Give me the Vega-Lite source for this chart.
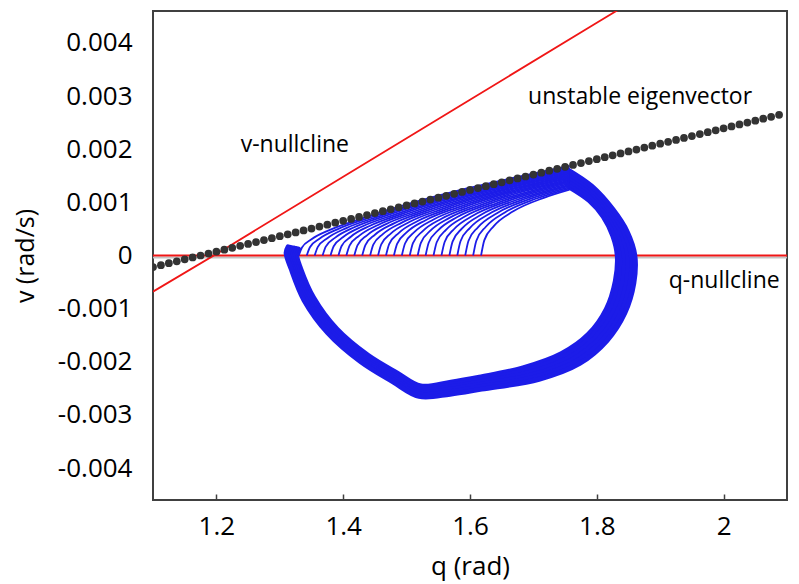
{
  "$schema": "https://vega.github.io/schema/vega-lite/v6.json",
  "width": 634,
  "height": 489,
  "autosize": {"type": "none"},
  "padding": {"left": 153, "top": 11, "right": 12, "bottom": 84},
  "background": "white",
  "config": {"view": {"stroke": "#404040", "strokeWidth": 2}},
  "datasets": {
    "qnull": [{"q": 1.1, "v": 0}, {"q": 2.1, "v": 0}],
    "vnull": [
      {"q": 1.1, "v": -0.00068}, {"q": 1.2, "v": 0.00003}, {"q": 1.4, "v": 0.00148},
      {"q": 1.6, "v": 0.00293}, {"q": 1.8, "v": 0.00438}, {"q": 1.86, "v": 0.00481}
    ],
    "loop": [
      {"t":0,"k":0,"q":1.7573,"v":0.001284},{"t":0,"k":1,"q":1.7883,"v":0.001032},{"t":0,"k":2,"q":1.8102,"v":0.000733},{"t":0,"k":3,"q":1.8253,"v":0.000367},{"t":0,"k":4,"q":1.8323,"v":0},{"t":0,"k":5,"q":1.8293,"v":-0.000477},{"t":0,"k":6,"q":1.8151,"v":-0.001007},{"t":0,"k":7,"q":1.7867,"v":-0.001484},{"t":0,"k":8,"q":1.7440,"v":-0.001850},{"t":0,"k":9,"q":1.6836,"v":-0.002116},{"t":0,"k":10,"q":1.6146,"v":-0.002288},{"t":0,"k":10.5,"q":1.5698,"v":-0.002382},{"t":0,"k":11,"q":1.5223,"v":-0.002454},{"t":0,"k":12,"q":1.4867,"v":-0.002222},{"t":0,"k":13,"q":1.4391,"v":-0.001879},{"t":0,"k":14,"q":1.3899,"v":-0.001384},{"t":0,"k":15,"q":1.3534,"v":-0.000797},{"t":0,"k":16,"q":1.3328,"v":-0.000245},{"t":0,"k":17,"q":1.3264,"v":0.000023},{"t":0,"k":18,"q":1.3296,"v":0.000119},
      {"t":1,"k":0,"q":1.7566,"v":0.001351},{"t":1,"k":1,"q":1.7890,"v":0.001086},{"t":1,"k":2,"q":1.8132,"v":0.000760},{"t":1,"k":3,"q":1.8299,"v":0.000382},{"t":1,"k":4,"q":1.8378,"v":0},{"t":1,"k":5,"q":1.8351,"v":-0.000486},{"t":1,"k":6,"q":1.8209,"v":-0.001022},{"t":1,"k":7,"q":1.7925,"v":-0.001508},{"t":1,"k":8,"q":1.7498,"v":-0.001886},{"t":1,"k":9,"q":1.6886,"v":-0.002159},{"t":1,"k":10,"q":1.6153,"v":-0.002333},{"t":1,"k":10.5,"q":1.5695,"v":-0.002428},{"t":1,"k":11,"q":1.5218,"v":-0.002493},{"t":1,"k":12,"q":1.4849,"v":-0.002252},{"t":1,"k":13,"q":1.4368,"v":-0.001903},{"t":1,"k":14,"q":1.3871,"v":-0.001399},{"t":1,"k":15,"q":1.3504,"v":-0.000806},{"t":1,"k":16,"q":1.3298,"v":-0.000245},{"t":1,"k":17,"q":1.3231,"v":0.000029},{"t":1,"k":18,"q":1.3263,"v":0.000128},
      {"t":2,"k":0,"q":1.7558,"v":0.001417},{"t":2,"k":1,"q":1.7898,"v":0.001140},{"t":2,"k":2,"q":1.8162,"v":0.000787},{"t":2,"k":3,"q":1.8344,"v":0.000397},{"t":2,"k":4,"q":1.8434,"v":0},{"t":2,"k":5,"q":1.8409,"v":-0.000495},{"t":2,"k":6,"q":1.8267,"v":-0.001037},{"t":2,"k":7,"q":1.7983,"v":-0.001532},{"t":2,"k":8,"q":1.7556,"v":-0.001922},{"t":2,"k":9,"q":1.6937,"v":-0.002201},{"t":2,"k":10,"q":1.6161,"v":-0.002378},{"t":2,"k":10.5,"q":1.5693,"v":-0.002473},{"t":2,"k":11,"q":1.5213,"v":-0.002532},{"t":2,"k":12,"q":1.4832,"v":-0.002282},{"t":2,"k":13,"q":1.4345,"v":-0.001927},{"t":2,"k":14,"q":1.3843,"v":-0.001414},{"t":2,"k":15,"q":1.3473,"v":-0.000815},{"t":2,"k":16,"q":1.3268,"v":-0.000245},{"t":2,"k":17,"q":1.3198,"v":0.000035},{"t":2,"k":18,"q":1.3230,"v":0.000137},
      {"t":3,"k":0,"q":1.7550,"v":0.001483},{"t":3,"k":1,"q":1.7905,"v":0.001195},{"t":3,"k":2,"q":1.8193,"v":0.000814},{"t":3,"k":3,"q":1.8390,"v":0.000413},{"t":3,"k":4,"q":1.8489,"v":0},{"t":3,"k":5,"q":1.8468,"v":-0.000503},{"t":3,"k":6,"q":1.8326,"v":-0.001053},{"t":3,"k":7,"q":1.8042,"v":-0.001557},{"t":3,"k":8,"q":1.7615,"v":-0.001958},{"t":3,"k":9,"q":1.6987,"v":-0.002243},{"t":3,"k":10,"q":1.6168,"v":-0.002424},{"t":3,"k":10.5,"q":1.5690,"v":-0.002518},{"t":3,"k":11,"q":1.5207,"v":-0.002571},{"t":3,"k":12,"q":1.4814,"v":-0.002313},{"t":3,"k":13,"q":1.4323,"v":-0.001952},{"t":3,"k":14,"q":1.3815,"v":-0.001430},{"t":3,"k":15,"q":1.3443,"v":-0.000823},{"t":3,"k":16,"q":1.3237,"v":-0.000245},{"t":3,"k":17,"q":1.3165,"v":0.000040},{"t":3,"k":18,"q":1.3197,"v":0.000145},
      {"t":4,"k":0,"q":1.7542,"v":0.001549},{"t":4,"k":1,"q":1.7913,"v":0.001249},{"t":4,"k":2,"q":1.8223,"v":0.000841},{"t":4,"k":3,"q":1.8435,"v":0.000428},{"t":4,"k":4,"q":1.8545,"v":0},{"t":4,"k":5,"q":1.8526,"v":-0.000512},{"t":4,"k":6,"q":1.8384,"v":-0.001068},{"t":4,"k":7,"q":1.8100,"v":-0.001581},{"t":4,"k":8,"q":1.7673,"v":-0.001994},{"t":4,"k":9,"q":1.7038,"v":-0.002285},{"t":4,"k":10,"q":1.6176,"v":-0.002469},{"t":4,"k":10.5,"q":1.5688,"v":-0.002563},{"t":4,"k":11,"q":1.5202,"v":-0.002610},{"t":4,"k":12,"q":1.4797,"v":-0.002343},{"t":4,"k":13,"q":1.4300,"v":-0.001976},{"t":4,"k":14,"q":1.3787,"v":-0.001445},{"t":4,"k":15,"q":1.3412,"v":-0.000832},{"t":4,"k":16,"q":1.3207,"v":-0.000245},{"t":4,"k":17,"q":1.3132,"v":0.000046},{"t":4,"k":18,"q":1.3164,"v":0.000154},
      {"t":5,"k":0,"q":1.7535,"v":0.001616},{"t":5,"k":1,"q":1.7920,"v":0.001303},{"t":5,"k":2,"q":1.8253,"v":0.000868},{"t":5,"k":3,"q":1.8481,"v":0.000443},{"t":5,"k":4,"q":1.8600,"v":0},{"t":5,"k":5,"q":1.8584,"v":-0.000521},{"t":5,"k":6,"q":1.8442,"v":-0.001083},{"t":5,"k":7,"q":1.8158,"v":-0.001605},{"t":5,"k":8,"q":1.7731,"v":-0.002030},{"t":5,"k":9,"q":1.7088,"v":-0.002328},{"t":5,"k":10,"q":1.6183,"v":-0.002514},{"t":5,"k":10.5,"q":1.5686,"v":-0.002609},{"t":5,"k":11,"q":1.5197,"v":-0.002650},{"t":5,"k":12,"q":1.4779,"v":-0.002373},{"t":5,"k":13,"q":1.4277,"v":-0.002000},{"t":5,"k":14,"q":1.3759,"v":-0.001460},{"t":5,"k":15,"q":1.3382,"v":-0.000841},{"t":5,"k":16,"q":1.3177,"v":-0.000245},{"t":5,"k":17,"q":1.3100,"v":0.000052},{"t":5,"k":18,"q":1.3132,"v":0.000163}
    ],
    "arcs": [
      {"a":0,"q":1.33,"v":0},{"a":0,"q":1.335,"v":0.000150},{"a":0,"q":1.35,"v":0.000304},{"a":0,"q":1.38,"v":0.000487},{"a":0,"q":1.43,"v":0.000698},{"a":0,"q":1.757,"v":0.001688},
      {"a":1,"q":1.3425,"v":0},{"a":1,"q":1.3475,"v":0.000156},{"a":1,"q":1.3625,"v":0.000315},{"a":1,"q":1.3925,"v":0.000502},{"a":1,"q":1.4425,"v":0.000715},{"a":1,"q":1.757,"v":0.001670},
      {"a":2,"q":1.355,"v":0},{"a":2,"q":1.36,"v":0.000162},{"a":2,"q":1.375,"v":0.000326},{"a":2,"q":1.405,"v":0.000516},{"a":2,"q":1.455,"v":0.000732},{"a":2,"q":1.757,"v":0.001651},
      {"a":3,"q":1.3675,"v":0},{"a":3,"q":1.3725,"v":0.000168},{"a":3,"q":1.3875,"v":0.000336},{"a":3,"q":1.4175,"v":0.000531},{"a":3,"q":1.4675,"v":0.000749},{"a":3,"q":1.757,"v":0.001633},
      {"a":4,"q":1.38,"v":0},{"a":4,"q":1.385,"v":0.000174},{"a":4,"q":1.4,"v":0.000347},{"a":4,"q":1.43,"v":0.000546},{"a":4,"q":1.48,"v":0.000766},{"a":4,"q":1.757,"v":0.001615},
      {"a":5,"q":1.3925,"v":0},{"a":5,"q":1.3975,"v":0.000179},{"a":5,"q":1.4125,"v":0.000358},{"a":5,"q":1.4425,"v":0.000561},{"a":5,"q":1.4925,"v":0.000783},{"a":5,"q":1.757,"v":0.001597},
      {"a":6,"q":1.405,"v":0},{"a":6,"q":1.41,"v":0.000185},{"a":6,"q":1.425,"v":0.000369},{"a":6,"q":1.455,"v":0.000575},{"a":6,"q":1.505,"v":0.000800},{"a":6,"q":1.757,"v":0.001578},
      {"a":7,"q":1.4175,"v":0},{"a":7,"q":1.4225,"v":0.000191},{"a":7,"q":1.4375,"v":0.000379},{"a":7,"q":1.4675,"v":0.000590},{"a":7,"q":1.5175,"v":0.000817},{"a":7,"q":1.757,"v":0.001560},
      {"a":8,"q":1.43,"v":0},{"a":8,"q":1.435,"v":0.000197},{"a":8,"q":1.45,"v":0.000390},{"a":8,"q":1.48,"v":0.000605},{"a":8,"q":1.53,"v":0.000834},{"a":8,"q":1.757,"v":0.001542},
      {"a":9,"q":1.4425,"v":0},{"a":9,"q":1.4475,"v":0.000203},{"a":9,"q":1.4625,"v":0.000401},{"a":9,"q":1.4925,"v":0.000619},{"a":9,"q":1.5425,"v":0.000851},{"a":9,"q":1.757,"v":0.001524},
      {"a":10,"q":1.455,"v":0},{"a":10,"q":1.46,"v":0.000209},{"a":10,"q":1.475,"v":0.000412},{"a":10,"q":1.505,"v":0.000634},{"a":10,"q":1.555,"v":0.000868},{"a":10,"q":1.757,"v":0.001505},
      {"a":11,"q":1.4675,"v":0},{"a":11,"q":1.4725,"v":0.000214},{"a":11,"q":1.4875,"v":0.000423},{"a":11,"q":1.5175,"v":0.000649},{"a":11,"q":1.5675,"v":0.000885},{"a":11,"q":1.757,"v":0.001487},
      {"a":12,"q":1.48,"v":0},{"a":12,"q":1.485,"v":0.000220},{"a":12,"q":1.5,"v":0.000433},{"a":12,"q":1.53,"v":0.000664},{"a":12,"q":1.58,"v":0.000902},{"a":12,"q":1.757,"v":0.001469},
      {"a":13,"q":1.4925,"v":0},{"a":13,"q":1.4975,"v":0.000226},{"a":13,"q":1.5125,"v":0.000444},{"a":13,"q":1.5425,"v":0.000678},{"a":13,"q":1.5925,"v":0.000919},{"a":13,"q":1.757,"v":0.001450},
      {"a":14,"q":1.505,"v":0},{"a":14,"q":1.51,"v":0.000232},{"a":14,"q":1.525,"v":0.000455},{"a":14,"q":1.555,"v":0.000693},{"a":14,"q":1.605,"v":0.000936},{"a":14,"q":1.757,"v":0.001432},
      {"a":15,"q":1.5175,"v":0},{"a":15,"q":1.5225,"v":0.000238},{"a":15,"q":1.5375,"v":0.000466},{"a":15,"q":1.5675,"v":0.000708},{"a":15,"q":1.6175,"v":0.000953},{"a":15,"q":1.757,"v":0.001414},
      {"a":16,"q":1.53,"v":0},{"a":16,"q":1.535,"v":0.000244},{"a":16,"q":1.55,"v":0.000476},{"a":16,"q":1.58,"v":0.000723},{"a":16,"q":1.63,"v":0.000970},{"a":16,"q":1.757,"v":0.001396},
      {"a":17,"q":1.5425,"v":0},{"a":17,"q":1.5475,"v":0.000249},{"a":17,"q":1.5625,"v":0.000487},{"a":17,"q":1.5925,"v":0.000737},{"a":17,"q":1.6425,"v":0.000987},{"a":17,"q":1.757,"v":0.001377},
      {"a":18,"q":1.555,"v":0},{"a":18,"q":1.56,"v":0.000255},{"a":18,"q":1.575,"v":0.000498},{"a":18,"q":1.605,"v":0.000752},{"a":18,"q":1.655,"v":0.001004},{"a":18,"q":1.757,"v":0.001352},
      {"a":19,"q":1.5675,"v":0},{"a":19,"q":1.5725,"v":0.000261},{"a":19,"q":1.5875,"v":0.000509},{"a":19,"q":1.6175,"v":0.000767},{"a":19,"q":1.6675,"v":0.001021},{"a":19,"q":1.757,"v":0.001331},
      {"a":20,"q":1.58,"v":0},{"a":20,"q":1.585,"v":0.000267},{"a":20,"q":1.6,"v":0.000520},{"a":20,"q":1.63,"v":0.000781},{"a":20,"q":1.68,"v":0.001038},{"a":20,"q":1.757,"v":0.001310},
      {"a":21,"q":1.5925,"v":0},{"a":21,"q":1.5975,"v":0.000273},{"a":21,"q":1.6125,"v":0.000530},{"a":21,"q":1.6425,"v":0.000796},{"a":21,"q":1.6925,"v":0.001055},{"a":21,"q":1.757,"v":0.001287},
      {"a":22,"q":1.605,"v":0},{"a":22,"q":1.61,"v":0.000279},{"a":22,"q":1.625,"v":0.000541},{"a":22,"q":1.655,"v":0.000811},{"a":22,"q":1.705,"v":0.001072},{"a":22,"q":1.757,"v":0.001264},
      {"a":23,"q":1.6175,"v":0},{"a":23,"q":1.6225,"v":0.000284},{"a":23,"q":1.6375,"v":0.000552},{"a":23,"q":1.6675,"v":0.000826},{"a":23,"q":1.7175,"v":0.001089},{"a":23,"q":1.757,"v":0.001239}
    ],
    "eig": [
      {"q":1.1,"v":-0.0002175},{"q":1.1125,"v":-0.0001813},{"q":1.125,"v":-0.000145},{"q":1.1375,"v":-0.0001088},{"q":1.15,"v":-0.0000725},{"q":1.1625,"v":-0.0000363},{"q":1.175,"v":0},{"q":1.1875,"v":0.0000363},{"q":1.2,"v":0.0000725},{"q":1.2125,"v":0.0001088},
      {"q":1.225,"v":0.000145},{"q":1.2375,"v":0.0001813},{"q":1.25,"v":0.0002175},{"q":1.2625,"v":0.0002538},{"q":1.275,"v":0.00029},{"q":1.2875,"v":0.0003263},{"q":1.3,"v":0.0003625},{"q":1.3125,"v":0.0003988},{"q":1.325,"v":0.000435},{"q":1.3375,"v":0.0004713},
      {"q":1.35,"v":0.0005075},{"q":1.3625,"v":0.0005438},{"q":1.375,"v":0.00058},{"q":1.3875,"v":0.0006163},{"q":1.4,"v":0.0006525},{"q":1.4125,"v":0.0006888},{"q":1.425,"v":0.000725},{"q":1.4375,"v":0.0007613},{"q":1.45,"v":0.0007975},{"q":1.4625,"v":0.0008338},
      {"q":1.475,"v":0.00087},{"q":1.4875,"v":0.0009063},{"q":1.5,"v":0.0009425},{"q":1.5125,"v":0.0009788},{"q":1.525,"v":0.001015},{"q":1.5375,"v":0.0010513},{"q":1.55,"v":0.0010875},{"q":1.5625,"v":0.0011238},{"q":1.575,"v":0.00116},{"q":1.5875,"v":0.0011963},
      {"q":1.6,"v":0.0012325},{"q":1.6125,"v":0.0012688},{"q":1.625,"v":0.001305},{"q":1.6375,"v":0.0013413},{"q":1.65,"v":0.0013775},{"q":1.6625,"v":0.0014138},{"q":1.675,"v":0.00145},{"q":1.6875,"v":0.0014863},{"q":1.7,"v":0.0015225},{"q":1.7125,"v":0.0015588},
      {"q":1.725,"v":0.001595},{"q":1.7375,"v":0.0016313},{"q":1.75,"v":0.0016675},{"q":1.7625,"v":0.0017038},{"q":1.775,"v":0.00174},{"q":1.7875,"v":0.0017763},{"q":1.8,"v":0.0018125},{"q":1.8125,"v":0.0018488},{"q":1.825,"v":0.001885},{"q":1.8375,"v":0.0019213},
      {"q":1.85,"v":0.0019575},{"q":1.8625,"v":0.0019938},{"q":1.875,"v":0.00203},{"q":1.8875,"v":0.0020663},{"q":1.9,"v":0.0021025},{"q":1.9125,"v":0.0021388},{"q":1.925,"v":0.002175},{"q":1.9375,"v":0.0022113},{"q":1.95,"v":0.0022475},{"q":1.9625,"v":0.0022838},
      {"q":1.975,"v":0.00232},{"q":1.9875,"v":0.0023563},{"q":2.0,"v":0.0023925},{"q":2.0125,"v":0.0024288},{"q":2.025,"v":0.002465},{"q":2.0375,"v":0.0025013},{"q":2.05,"v":0.0025375},{"q":2.0625,"v":0.0025738},{"q":2.075,"v":0.00261},{"q":2.0875,"v":0.0026463}
    ],
    "labels": [
      {"q": 1.3237, "v": 0.00207, "text": "v-nullcline"},
      {"q": 1.8683, "v": 0.002975, "text": "unstable eigenvector"},
      {"q": 2.0009, "v": -0.000471, "text": "q-nullcline"}
    ]
  },
  "encoding": {
    "x": {
      "field": "q", "type": "quantitative",
      "scale": {"domain": [1.1, 2.1], "nice": false, "zero": false},
      "axis": {
        "title": "q (rad)", "values": [1.2, 1.4, 1.6, 1.8, 2], "format": ".1~f",
        "grid": false, "domain": false, "ticks": true, "tickSize": -6, "tickColor": "#404040", "tickWidth": 1.5,
        "labelPadding": 19, "labelFont": "Open Sans", "labelFontSize": 26, "labelColor": "#000",
        "titleFont": "Open Sans", "titleFontSize": 26, "titleFontWeight": "normal", "titleColor": "#000", "titlePadding": 14
      }
    },
    "y": {
      "field": "v", "type": "quantitative",
      "scale": {"domain": [-0.0046, 0.0046], "nice": false, "zero": false},
      "axis": {
        "title": "v (rad/s)", "values": [-0.004, -0.003, -0.002, -0.001, 0, 0.001, 0.002, 0.003, 0.004],
        "labelExpr": "replace(format(datum.value, '.3~f'), '−', '-')",
        "grid": false, "domain": false, "ticks": false, "labelPadding": 21,
        "labelFont": "Open Sans", "labelFontSize": 26, "labelColor": "#000",
        "titleFont": "Open Sans", "titleFontSize": 25, "titleFontWeight": "normal", "titleColor": "#000", "titlePadding": 19
      }
    }
  },
  "layer": [
    {"data": {"name": "qnull"}, "mark": {"type": "line", "color": "#c4c4c4", "strokeWidth": 2, "yOffset": 2}},
    {"data": {"name": "qnull"}, "mark": {"type": "line", "color": "#f01616", "strokeWidth": 2}},
    {"data": {"name": "vnull"}, "mark": {"type": "line", "color": "#f01616", "strokeWidth": 1.8, "clip": true}},
    {"data": {"name": "loop"}, "mark": {"type": "line", "color": "#1c1ce8", "strokeWidth": 5, "interpolate": "catmull-rom", "strokeCap": "round", "strokeJoin": "round"},
     "encoding": {"detail": {"field": "t"}, "order": {"field": "k", "type": "quantitative"}}},
    {"data": {"name": "arcs"}, "mark": {"type": "line", "color": "#1c1ce8", "strokeWidth": 1.8, "interpolate": "monotone"},
     "encoding": {"detail": {"field": "a"}}},
    {"data": {"name": "eig"}, "mark": {"type": "circle", "color": "#333333", "size": 60, "opacity": 1, "clip": true}},
    {"data": {"name": "labels"}, "mark": {"type": "text", "font": "Open Sans", "fontSize": 23, "color": "#000", "align": "center", "baseline": "middle"},
     "encoding": {"text": {"field": "text"}}}
  ]
}
